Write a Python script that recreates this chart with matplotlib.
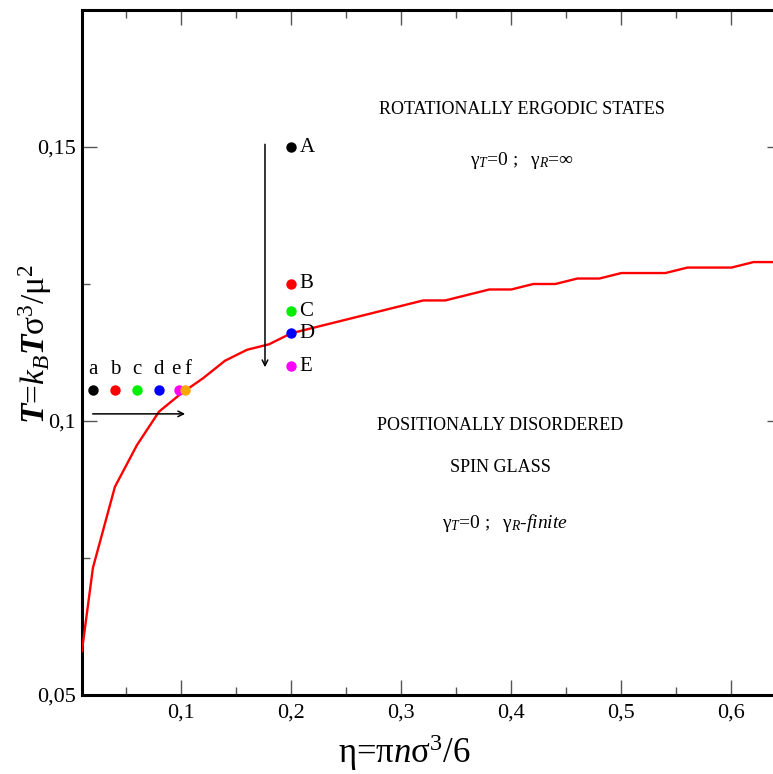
import matplotlib
matplotlib.use("Agg")
import matplotlib.pyplot as plt
from matplotlib.ticker import MultipleLocator, FuncFormatter

# Phase boundary (red line)
eta_line = [0.01, 0.02, 0.04, 0.06, 0.08, 0.10, 0.12, 0.14, 0.16, 0.18,
            0.20, 0.22, 0.24, 0.26, 0.28, 0.30, 0.32, 0.34, 0.36, 0.38,
            0.40, 0.42, 0.44, 0.46, 0.48, 0.50, 0.52, 0.54, 0.56, 0.58,
            0.60, 0.62, 0.64]
T_line = [0.058, 0.0732, 0.088, 0.0956, 0.1017, 0.105, 0.1078, 0.111, 0.113, 0.114,
          0.116, 0.117, 0.118, 0.119, 0.120, 0.121, 0.122, 0.122, 0.123, 0.124,
          0.124, 0.125, 0.125, 0.126, 0.126, 0.127, 0.127, 0.127, 0.128, 0.128,
          0.128, 0.129, 0.129]

# State points along the horizontal path (a-f)
low_labels = ["a", "b", "c", "d", "e", "f"]
low_eta = [0.02, 0.04, 0.06, 0.08, 0.098, 0.104]
low_T = [0.1057] * 6
low_colors = ["black", "red", "#00ee00", "blue", "magenta", "orange"]
low_shift = [0, 0, 0, 0, -2.5, 1.5]  # keeps "e" and "f" apart

# State points along the vertical path (A-E)
up_labels = ["A", "B", "C", "D", "E"]
up_eta = [0.2] * 5
up_T = [0.15, 0.125, 0.12, 0.116, 0.11]
up_colors = ["black", "red", "#00ee00", "blue", "magenta"]

plt.rcParams["font.family"] = ["Liberation Serif", "DejaVu Serif"]
plt.rcParams["mathtext.fontset"] = "custom"
plt.rcParams["mathtext.rm"] = "Liberation Serif"
plt.rcParams["mathtext.it"] = "Liberation Serif:italic"
plt.rcParams["mathtext.bf"] = "Liberation Serif:bold:italic"

fig = plt.figure(figsize=(7.73, 7.74), dpi=100)
# right spine falls just outside the picture
ax = fig.add_axes([81.9 / 773, 79 / 774, 700 / 773, 685 / 774])

ax.plot(eta_line, T_line, color="red", lw=1.7, zorder=3)

for lab, x, y, c, dx in zip(low_labels, low_eta, low_T, low_colors, low_shift):
    ax.plot(x, y, "o", color=c, ms=7.5, mec="none", zorder=4)
    ax.annotate(lab, (x, y), xytext=(dx, 8), textcoords="offset points",
                ha="center", va="bottom", fontsize=15)

for lab, x, y, c in zip(up_labels, up_eta, up_T, up_colors):
    ax.plot(x, y, "o", color=c, ms=7.5, mec="none", zorder=4)
    ax.annotate(lab, (x, y), xytext=(6, 0), textcoords="offset points",
                ha="left", va="center", fontsize=15)

# arrows showing the two paths
ax.annotate("", xy=(0.1763, 0.1093), xytext=(0.1763, 0.151),
            arrowprops=dict(arrowstyle="->", color="black", lw=1.1))
ax.annotate("", xy=(0.1063, 0.1013), xytext=(0.0173, 0.1013),
            arrowprops=dict(arrowstyle="->", color="black", lw=1.1))

# region labels
ax.text(0.41, 0.1568, "ROTATIONALLY ERGODIC STATES", ha="center", va="center", fontsize=13)
ax.text(0.41, 0.1476, r"γ$_{\mathit{T}}$=$\mathit{0\ ;}$  γ$_{\mathit{R}}$=∞",
        ha="center", va="center", fontsize=14)
ax.text(0.39, 0.0991, "POSITIONALLY DISORDERED", ha="center", va="center", fontsize=13)
ax.text(0.39, 0.0916, "SPIN GLASS", ha="center", va="center", fontsize=13)
ax.text(0.394, 0.0814, r"γ$_{\mathit{T}}$=$\mathit{0\ ;}$  γ$_{\mathit{R}}$$\mathit{\text{-}finite}$",
        ha="center", va="center", fontsize=14)

ax.set_xlim(0.01, 0.01 + 700 / 1101)
ax.set_ylim(0.05, 0.175)

ax.xaxis.set_major_locator(MultipleLocator(0.1))
ax.xaxis.set_minor_locator(MultipleLocator(0.05))
ax.yaxis.set_major_locator(MultipleLocator(0.05))
ax.yaxis.set_minor_locator(MultipleLocator(0.025))

comma = FuncFormatter(lambda v, p: ("%g" % round(v, 3)).replace(".", ","))
ax.xaxis.set_major_formatter(comma)
ax.yaxis.set_major_formatter(comma)

ax.tick_params(which="both", direction="in", top=True, right=True, labelsize=16,
               color="#555555", width=1.0)
ax.tick_params(which="major", length=11)
ax.tick_params(axis="y", which="major", pad=4)
ax.tick_params(axis="x", which="major", pad=6)
ax.tick_params(which="minor", length=6)

for s in ax.spines.values():
    s.set_linewidth(2.2)

ax.set_xlabel(r"η=π$\mathit{n}$σ$^{3}$/6", fontsize=25)
ax.xaxis.set_label_coords(0.46, -0.055)
ax.set_ylabel(r"$\mathbf{T}$=$\mathit{k}_{\mathit{B}}\mathbf{T}$σ$^{3}$/μ$^{2}$", fontsize=24)
ax.yaxis.set_label_coords(-0.04, 0.513)

fig.savefig("out.png", dpi=100)
